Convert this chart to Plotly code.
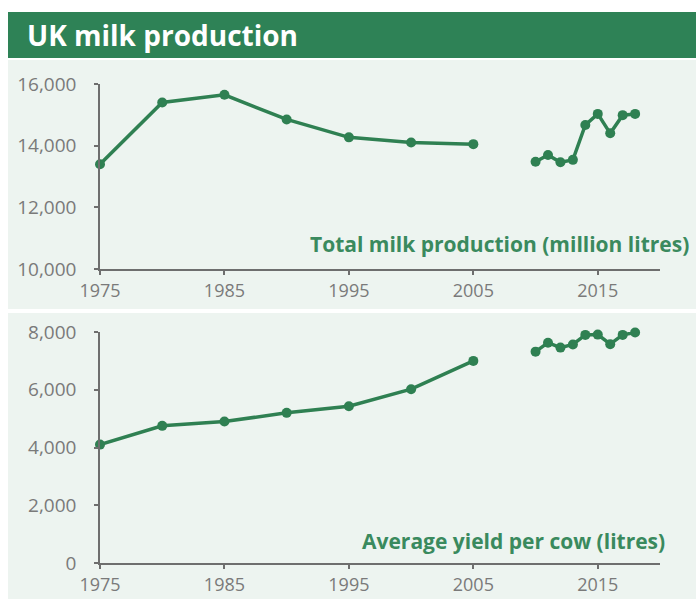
import plotly.graph_objects as go

# UK milk production, 1975-2018
years = [1975, 1980, 1985, 1990, 1995, 2000, 2005, 2007,
         2010, 2011, 2012, 2013, 2014, 2015, 2016, 2017, 2018]
total_production = [13400, 15400, 15650, 14850, 14270, 14100, 14050, None,
                    13480, 13700, 13460, 13540, 14670, 15030, 14400, 14990, 15030]
yield_per_cow = [4100, 4750, 4900, 5200, 5430, 6020, 7000, None,
                 7320, 7630, 7460, 7570, 7900, 7910, 7580, 7900, 7980]

x_ticks = [1975, 1985, 1995, 2005, 2015]
top_ticks = [10000, 12000, 14000, 16000]
bottom_ticks = [0, 2000, 4000, 6000, 8000]

W, H = 696, 599
GREEN = "#2e8256"
LINE = "#2f8052"
PANEL = "#edf4f0"
AXIS = "#6e6e6e"
TICKTXT = "#7a7a7a"
LABEL = "#3a8a5e"
FONT = "Open Sans"


def px_x(p):
    return p / W


def px_y(p):
    return 1 - p / H


fig = go.Figure()

fig.add_trace(go.Scatter(
    x=years, y=total_production, mode="lines+markers",
    line=dict(color=LINE, width=3.5), marker=dict(color=LINE, size=10),
    connectgaps=False, cliponaxis=False,
    xaxis="x", yaxis="y", showlegend=False))

fig.add_trace(go.Scatter(
    x=years, y=yield_per_cow, mode="lines+markers",
    line=dict(color=LINE, width=3.5), marker=dict(color=LINE, size=10),
    connectgaps=False, cliponaxis=False,
    xaxis="x2", yaxis="y2", showlegend=False))

axis_style = dict(
    showline=True, linecolor=AXIS, linewidth=1.5,
    ticks="outside", ticklen=4, tickwidth=1.5, tickcolor=AXIS,
    showgrid=False, zeroline=False, automargin=False, fixedrange=True,
)
x_style = dict(axis_style, ticklabelstandoff=1,
               tickfont=dict(family=FONT, size=18, color=TICKTXT))
y_style = dict(axis_style, ticklabelstandoff=14,
               tickfont=dict(family=FONT, size=19, color=TICKTXT))

fig.update_layout(
    width=W, height=H,
    margin=dict(l=0, r=0, t=0, b=0),
    paper_bgcolor="white", plot_bgcolor="rgba(0,0,0,0)",
    font=dict(family=FONT),
    xaxis=dict(domain=[px_x(100), px_x(660)], range=[1975, 2020],
               anchor="y", tickvals=x_ticks, **x_style),
    yaxis=dict(domain=[px_y(269), px_y(84)], range=[10000, 16000],
               anchor="x", tickvals=top_ticks, tickformat=",", **y_style),
    xaxis2=dict(domain=[px_x(100), px_x(660)], range=[1975, 2020],
                anchor="y2", tickvals=x_ticks, **x_style),
    yaxis2=dict(domain=[px_y(563), px_y(332)], range=[0, 8000],
                anchor="x2", tickvals=bottom_ticks, tickformat=",", **y_style),
    shapes=[
        # title bar
        dict(type="rect", xref="paper", yref="paper", layer="below",
             x0=px_x(8), x1=1, y0=px_y(58), y1=px_y(12),
             fillcolor=GREEN, line=dict(width=0)),
        # upper panel background
        dict(type="rect", xref="paper", yref="paper", layer="below",
             x0=px_x(8), x1=1, y0=px_y(309), y1=px_y(60),
             fillcolor=PANEL, line=dict(width=0)),
        # lower panel background
        dict(type="rect", xref="paper", yref="paper", layer="below",
             x0=px_x(8), x1=1, y0=0, y1=px_y(313),
             fillcolor=PANEL, line=dict(width=0)),
    ],
    annotations=[
        dict(text="<b>UK milk production</b>", xref="paper", yref="paper",
             x=px_x(25), y=px_y(35), xanchor="left", yanchor="middle",
             showarrow=False, font=dict(family=FONT, size=28, color="white")),
        dict(text="<b>Total milk production (million litres)</b>",
             xref="paper", yref="paper", x=px_x(691), y=px_y(244),
             xanchor="right", yanchor="middle", showarrow=False,
             font=dict(family=FONT, size=21, color=LABEL)),
        dict(text="<b>Average yield per cow (litres)</b>",
             xref="paper", yref="paper", x=px_x(667), y=px_y(541),
             xanchor="right", yanchor="middle", showarrow=False,
             font=dict(family=FONT, size=21, color=LABEL)),
    ],
)

fig.write_html("out.html")
